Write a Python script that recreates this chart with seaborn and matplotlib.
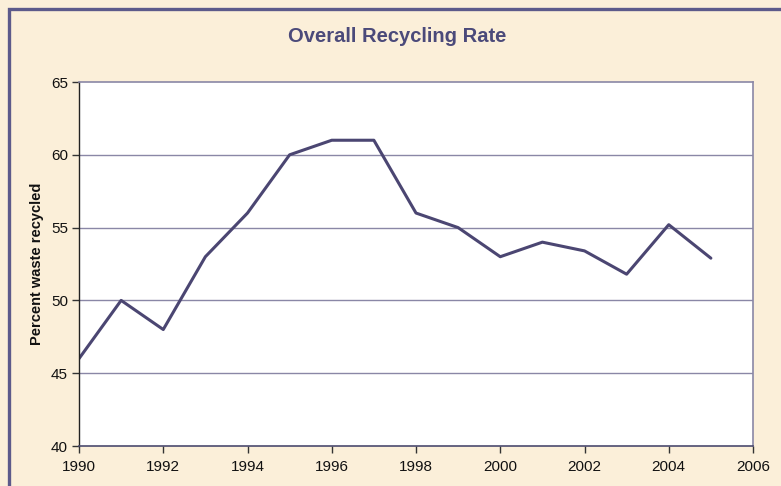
import matplotlib
matplotlib.use("Agg")
import matplotlib.pyplot as plt
import seaborn as sns
import pandas as pd
from matplotlib.patches import Rectangle

years = [1990, 1991, 1992, 1993, 1994, 1995, 1996, 1997, 1998, 1999, 2000, 2001, 2002, 2003, 2004, 2005]
rate = [46.0, 50.0, 48.0, 53.0, 56.0, 60.0, 61.0, 61.0, 56.0, 55.0, 53.0, 54.0, 53.4, 51.8, 55.2, 52.9]
xticks = [1990, 1992, 1994, 1996, 1998, 2000, 2002, 2004, 2006]
yticks = [40, 45, 50, 55, 60, 65]

df = pd.DataFrame({"year": years, "rate": rate})

sns.set_theme(style="white")
plt.rcParams['font.family'] = ['Liberation Sans', 'DejaVu Sans']

W, H = 781, 486
fig = plt.figure(figsize=(W / 100, H / 100), dpi=100)
fig.patch.set_facecolor("#FBEFD9")

# outer frame
fig.patches.append(Rectangle((9 / W, -0.1), 1.2, (H - 9) / H + 0.1, transform=fig.transFigure,
                             fill=False, edgecolor="#5C5A8A", linewidth=2.4, zorder=0))

ax = fig.add_axes([79 / W, (H - 446) / H, (753 - 79) / W, (446 - 82) / H])
ax.set_facecolor("white")

sns.lineplot(data=df, x="year", y="rate", ax=ax, color="#4B4672", linewidth=2.2)

ax.set_xlim(1990, 2006)
ax.set_ylim(40, 65)
ax.set_xticks(xticks)
ax.set_yticks(yticks)
ax.set_xticklabels([str(t) for t in xticks], fontsize=11, color="#111111")
ax.set_yticklabels([str(t) for t in yticks], fontsize=11, color="#111111")
ax.tick_params(axis="both", direction="out", length=5, width=1, color="#333333", bottom=True, left=True)
ax.tick_params(axis="x", pad=5)
ax.tick_params(axis="y", pad=3)

for y in yticks[1:-1]:
    ax.axhline(y, color="#8A87A6", linewidth=1.0, zorder=0)

ax.spines["left"].set_color("#222222")
ax.spines["left"].set_linewidth(1.0)
ax.spines["bottom"].set_color("#4B4A6E")
ax.spines["bottom"].set_linewidth(1.2)
ax.spines["top"].set_color("#8A87A6")
ax.spines["top"].set_linewidth(1.2)
ax.spines["right"].set_color("#8A87A6")
ax.spines["right"].set_linewidth(1.2)
for s in ax.spines.values():
    s.set_visible(True)

ax.set_xlabel("")
ax.set_ylabel("Percent waste recycled", fontsize=10.5, fontweight="bold", color="#111111", labelpad=5)

fig.text(397 / W, 1 - 36 / H, "Overall Recycling Rate", ha="center", va="center",
         fontsize=14.5, fontweight="bold", color="#4B4A7A")

fig.savefig("out.png", dpi=100, facecolor=fig.get_facecolor())
